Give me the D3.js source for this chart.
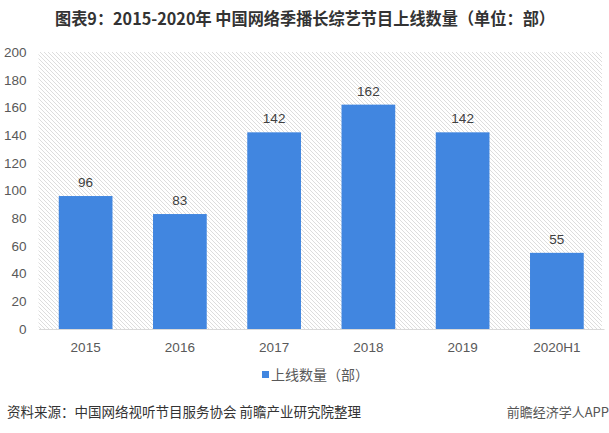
<!DOCTYPE html>
<html><head><meta charset="utf-8">
<script src="https://cdn.jsdelivr.net/npm/d3@7/dist/d3.min.js"></script>
<style>body{margin:0;background:#fff;}svg{display:block;font-family:"Microsoft YaHei","Noto Sans CJK SC",sans-serif;}</style>
</head><body><div id="chart"></div>
<script>
const categories = ["2015","2016","2017","2018","2019","2020H1"];
const values = [96,83,142,162,142,55];
const yTicks = [0,20,40,60,80,100,120,140,160,180,200];
const titleText = "图表9：2015-2020年 中国网络季播长综艺节目上线数量（单位：部）";
const legendText = "上线数量（部）";
const sourceText = "资料来源：中国网络视听节目服务协会 前瞻产业研究院整理";
const brandText = "前瞻经济学人APP";

const W = 609, H = 433;
const m = {left: 38.5, right: 5, top: 52, bottom: 104};
const svg = d3.select("#chart").append("svg").attr("width", W).attr("height", H);

const defs = svg.append("defs");
const pat = defs.append("pattern").attr("id","hatch").attr("patternUnits","userSpaceOnUse")
  .attr("width",4).attr("height",4);
pat.append("path").attr("d","M-1,-1 L5,5 M-1,3 L1,5 M3,-1 L5,1").attr("stroke","#d4d4d4").attr("stroke-width",0.8);

const x = d3.scaleBand().domain(categories).range([m.left, W - m.right]).paddingInner(0.43).paddingOuter(0.215);
const y = d3.scaleLinear().domain([0,200]).range([H - m.bottom, m.top]);

svg.append("rect").attr("x", m.left).attr("y", m.top).attr("width", W - m.left - m.right - 2)
  .attr("height", H - m.top - m.bottom).attr("fill","url(#hatch)");

svg.append("text").attr("x", 55).attr("y", 25)
  .attr("font-size",16.5).attr("font-weight","bold").attr("fill","#333")
  .attr("textLength",500).attr("lengthAdjust","spacingAndGlyphs").text(titleText);

const yAxis = svg.append("g").attr("transform",`translate(${m.left},0)`)
  .call(d3.axisLeft(y).tickValues(yTicks).tickSize(0).tickPadding(12));
yAxis.select(".domain").remove();
yAxis.selectAll("text").attr("font-size",13.5).attr("fill","#595959").attr("font-family","Liberation Sans, Arial, sans-serif");

svg.selectAll("rect.bar").data(values).enter().append("rect").attr("class","bar")
  .attr("x",(d,i)=>x(categories[i])).attr("width",x.bandwidth())
  .attr("y",d=>y(d)).attr("height",d=>y(0)-y(d)).attr("fill","#4186e0");

svg.selectAll("text.val").data(values).enter().append("text").attr("class","val")
  .attr("x",(d,i)=>x(categories[i])+x.bandwidth()/2).attr("y",d=>y(d)-9)
  .attr("text-anchor","middle").attr("font-size",13.5).attr("fill","#404040")
  .attr("font-family","Liberation Sans, Arial, sans-serif").text(d=>d);

const xAxis = svg.append("g").attr("transform",`translate(0,${y(0)})`)
  .call(d3.axisBottom(x).tickSize(0).tickPadding(13));
xAxis.select(".domain").attr("stroke","#d9d9d9").attr("stroke-width",1);
xAxis.selectAll("text").attr("font-size",13.5).attr("fill","#595959").attr("font-family","Liberation Sans, Arial, sans-serif");

svg.append("rect").attr("x",262).attr("y",371).attr("width",7).attr("height",7).attr("fill","#4186e0");
svg.append("text").attr("x",271).attr("y",380).attr("font-size",14).attr("fill","#595959").text(legendText);

svg.append("text").attr("x",7).attr("y",417).attr("font-size",13.5).attr("fill","#333").text(sourceText);
svg.append("text").attr("x",609).attr("y",417).attr("text-anchor","end").attr("font-size",13).attr("fill","#555").text(brandText);
</script></body></html>
